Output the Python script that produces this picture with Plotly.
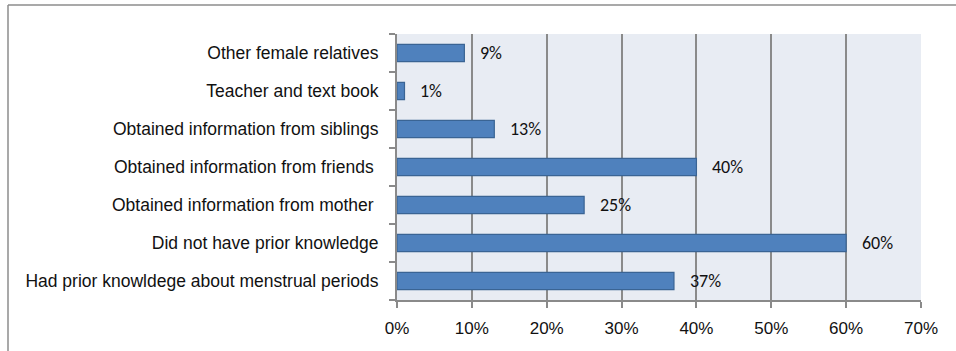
import plotly.graph_objects as go

categories = [
    "Had prior knowldege about menstrual periods",
    "Did not have prior knowledge",
    "Obtained information from mother ",
    "Obtained information from friends ",
    "Obtained information from siblings",
    "Teacher and text book",
    "Other female relatives",
]
values = [37, 60, 25, 40, 13, 1, 9]
x_ticks = [0, 10, 20, 30, 40, 50, 60, 70]
x_tick_labels = [f"{v}%" for v in x_ticks]

W, H = 956, 351
ML, MR, MT, MB = 397, 35, 34, 51
pw, ph = W - ML - MR, H - MT - MB

LABEL_FONT = "Liberation Sans Narrow, Arial Narrow, Liberation Sans, Arial, sans-serif"

fig = go.Figure(go.Bar(
    x=values, y=categories, orientation="h",
    marker=dict(color="#4F81BD", line=dict(color="#3A6494", width=1.2)),
    width=0.45, hoverinfo="skip",
))

for v, c in zip(values, categories):
    fig.add_annotation(x=v, y=c, text=f"{v}%", showarrow=False,
                       xanchor="left", xshift=14, yshift=0,
                       font=dict(family="Carlito, Lato, Open Sans, sans-serif", size=18, color="#111"))

def px_x(x):
    return (x - ML) / pw

def px_y(y):
    return (H - MB - y) / ph

# outer frame lines
fig.add_shape(type="line", xref="paper", yref="paper",
              x0=px_x(8), x1=px_x(W + 5), y0=px_y(5), y1=px_y(5),
              line=dict(color="#8C8C8C", width=1.5))
fig.add_shape(type="line", xref="paper", yref="paper",
              x0=px_x(8), x1=px_x(8), y0=px_y(5), y1=px_y(H + 5),
              line=dict(color="#8C8C8C", width=1.5))

fig.update_layout(
    width=W, height=H,
    margin=dict(l=ML, r=MR, t=MT, b=MB, pad=0),
    paper_bgcolor="white", plot_bgcolor="#E8ECF3",
    showlegend=False,
    xaxis=dict(range=[0, 70], tickvals=x_ticks, ticktext=x_tick_labels,
               showgrid=True, gridcolor="#8A8A8A", gridwidth=2,
               ticks="outside", ticklen=6, tickcolor="#8A8A8A", tickwidth=2,
               showline=True, linecolor="#8A8A8A", linewidth=2,
               zeroline=False, ticklabelstandoff=6,
               tickfont=dict(family=LABEL_FONT, size=17, color="#111")),
    yaxis=dict(categoryorder="array", categoryarray=categories,
               range=[-0.5, 6.5],
               showgrid=False, ticks="outside", tickson="boundaries",
               ticklen=6, tickcolor="#8A8A8A", tickwidth=1.5,
               showline=True, linecolor="#8A8A8A", linewidth=2,
               ticklabelstandoff=13,
               tickfont=dict(family=LABEL_FONT, size=17.5, color="#111")),
)

fig.write_html("out.html")
